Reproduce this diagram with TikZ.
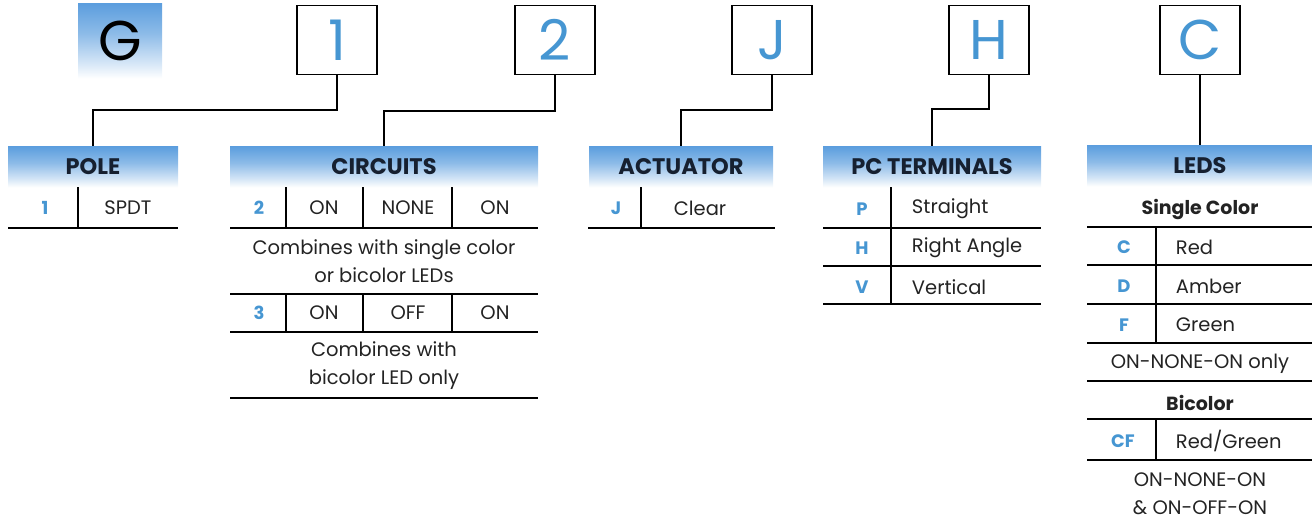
\documentclass[tikz,border=0pt]{standalone}
\usepackage{fontspec}
\setmainfont{Poppins}
\definecolor{codeblue}{RGB}{70,150,210}
\definecolor{headblue}{RGB}{92,158,222}
\definecolor{headtext}{RGB}{22,32,48}
\definecolor{entrytext}{RGB}{35,35,35}
\pgfdeclareverticalshading{headshade}{100bp}{color(0bp)=(white); color(25bp)=(white);
  color(35bp)=(headblue!25); color(55bp)=(headblue!70); color(75bp)=(headblue); color(100bp)=(headblue)}
\begin{document}
\begin{tikzpicture}[x = 1pt, y = -1pt, line width = 1.3pt,
    codebox/.style = {draw, minimum width = 80pt, minimum height = 69pt, inner sep = 0pt,
      text = codeblue, font = \fontsize{56}{56}\selectfont},
    header/.style = {shading = headshade, minimum height = 41pt,
      inner sep = 0pt, text = headtext, font = \bfseries\fontsize{22.5}{22.5}\selectfont},
    code/.style = {text = codeblue, font = \bfseries\fontsize{18}{18}\selectfont},
    entry/.style = {text = entrytext, font = \fontsize{19.5}{28}\selectfont, align = center},
    subhead/.style = {text = entrytext, font = \bfseries\fontsize{19}{19}\selectfont}]

  \useasboundingbox (0,0) rectangle (1312,524);

  % part number boxes
  \node [shading = headshade, minimum width = 84pt, minimum height = 75pt,
    inner sep = 0pt, font = \fontsize{56}{56}\selectfont] (g) at (120,41) {G};
  \node [codebox] (pole) at (337,40) {1};
  \node [codebox] (circ) at (555,40) {2};
  \node [codebox] (act)  at (772,40) {J};
  \node [codebox] (term) at (989,40) {H};
  \node [codebox] (led)  at (1200,40) {C};

  % headers
  \node [header, minimum width = 170pt] (poleh) at (93,167)  {POLE};
  \node [header, minimum width = 308pt] (circh) at (384,167) {CIRCUITS};
  \node [header, minimum width = 184pt] (acth)  at (681,167) {ACTUATOR};
  \node [header, minimum width = 218pt] (termh) at (932,167) {PC TERMINALS};
  \node [header, minimum width = 226pt] (ledh)  at (1200,166) {LEDS};

  % connectors
  \draw (pole.south) -- (pole.south |- 0,110) -| (poleh.north);
  \draw (circ.south) -- (circ.south |- 0,111) -| (circh.north);
  \draw (act.south)  -- (act.south  |- 0,110) -| (acth.north);
  \draw (term.south) -- (term.south |- 0,109) -| (termh.north);
  \draw (led.south)  -- (ledh.north);

  % pole
  \draw (78,187) -- (78,228);
  \draw (8,228) -- (178,228);
  \node [code]  at (45,208)  {1};
  \node [entry] at (128,208) {SPDT};

  % circuits
  \foreach \x in {286,363,452} {
    \draw (\x,187) -- (\x,228);
    \draw (\x,294) -- (\x,332);
  }
  \foreach \y in {228,294,332,398}
    \draw (230,\y) -- (538,\y);
  \node [code]  at (259,208) {2};
  \node [entry] at (324,208) {ON};
  \node [entry] at (408,208) {NONE};
  \node [entry] at (495,208) {ON};
  \node [entry] at (384,261) {Combines with single color\\or bicolor LEDs};
  \node [code]  at (259,313) {3};
  \node [entry] at (324,313) {ON};
  \node [entry] at (408,313) {OFF};
  \node [entry] at (495,313) {ON};
  \node [entry] at (384,366) {Combines with\\bicolor LED only};

  % actuator
  \draw (641,187) -- (641,228);
  \draw (588,228) -- (775,228);
  \node [code]  at (616,208) {J};
  \node [entry] at (700,208) {Clear};

  % pc terminals
  \draw (891,187) -- (891,304);
  \foreach \y in {228,266,304}
    \draw (823,\y) -- (1041,\y);
  \node [code] at (862,209) {P};
  \node [code] at (862,248) {H};
  \node [code] at (862,287) {V};
  \node [entry, anchor = west] at (908,209) {Straight};
  \node [entry, anchor = west] at (908,248) {Right Angle};
  \node [entry, anchor = west] at (908,287) {Vertical};

  % leds
  \draw (1156,227) -- (1156,343);
  \draw (1156,419) -- (1156,460);
  \foreach \y in {227,265,304,343,381,419,460}
    \draw (1087,\y) -- (1312,\y);
  \node [subhead] at (1200,210) {Single Color};
  \node [code] at (1124,247) {C};
  \node [code] at (1124,286) {D};
  \node [code] at (1124,325) {F};
  \node [entry, anchor = west] at (1172,247) {Red};
  \node [entry, anchor = west] at (1172,286) {Amber};
  \node [entry, anchor = west] at (1172,325) {Green};
  \node [entry] at (1200,364) {ON-NONE-ON only};
  \node [subhead] at (1200,403) {Bicolor};
  \node [code] at (1123,441) {CF};
  \node [entry, anchor = west] at (1172,441) {Red/Green};
  \node [entry] at (1200,494) {ON-NONE-ON\\\& ON-OFF-ON};

\end{tikzpicture}
\end{document}
